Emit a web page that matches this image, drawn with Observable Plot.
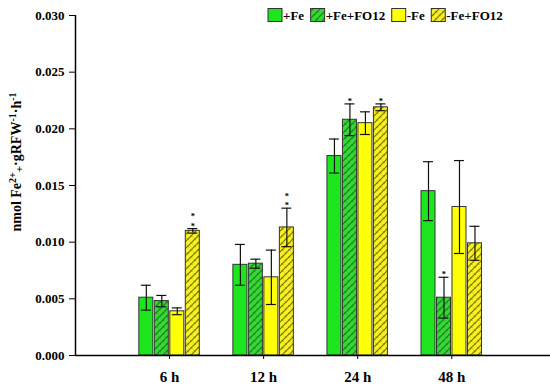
<!DOCTYPE html>
<html>
<head>
<meta charset="utf-8">
<script src="https://cdn.jsdelivr.net/npm/d3@7"></script>
<script src="https://cdn.jsdelivr.net/npm/@observablehq/plot@0.6"></script>
<style>
  body { margin: 0; background: #fff; }
  #chart svg { display: block; }
</style>
</head>
<body>
<div id="chart"></div>
<script>
// ---- data ----
const groups = ["6 h", "12 h", "24 h", "48 h"];
const seriesNames = ["+Fe", "+Fe+FO12", "-Fe", "-Fe+FO12"];

const feMean     = [0.0051, 0.0080, 0.0176, 0.0145];
const feErr      = [0.0011, 0.0018, 0.0015, 0.0026];
const feFoMean   = [0.0048, 0.0081, 0.0208, 0.0051];
const feFoErr    = [0.0005, 0.0004, 0.0014, 0.0018];
const noFeMean   = [0.0039, 0.0069, 0.0205, 0.0131];
const noFeErr    = [0.0003, 0.0024, 0.0010, 0.0041];
const noFeFoMean = [0.0110, 0.0113, 0.0219, 0.0099];
const noFeFoErr  = [0.0002, 0.0017, 0.0003, 0.0015];

const feStars     = [0, 0, 0, 0];
const feFoStars   = [0, 0, 1, 1];
const noFeStars   = [0, 0, 0, 0];
const noFeFoStars = [2, 2, 1, 0];

const yTicks = [0, 0.005, 0.010, 0.015, 0.020, 0.025, 0.030];

// ---- styling ----
const fills = ["#1ee61e", "url(#hatchG)", "#ffff0a", "url(#hatchY)"];
const FONT = "Liberation Serif, Times New Roman, serif";

const allMeans = [feMean, feFoMean, noFeMean, noFeFoMean];
const allErrs = [feErr, feFoErr, noFeErr, noFeFoErr];
const allStars = [feStars, feFoStars, noFeStars, noFeFoStars];

const pitch = 0.1647, half = 0.0744, cap = 0.053;
const rows = [];
groups.forEach((g, gi) => {
  seriesNames.forEach((s, si) => {
    const c = gi + 1 + (si - 1.5) * pitch;
    rows.push({
      group: g, series: s, si,
      c, x1: c - half, x2: c + half,
      mean: allMeans[si][gi], err: allErrs[si][gi],
      stars: allStars[si][gi]
    });
  });
});

const marks = [];
seriesNames.forEach((s, si) => {
  marks.push(Plot.rect(rows.filter(d => d.si === si), {
    x1: "x1", x2: "x2", y1: 0, y2: "mean",
    fill: fills[si], stroke: "#333", strokeWidth: 1
  }));
});
marks.push(
  Plot.ruleX(rows, {x: "c", y1: d => d.mean - d.err, y2: d => d.mean + d.err, stroke: "#111", strokeWidth: 1.2}),
  Plot.ruleY(rows, {y: d => d.mean + d.err, x1: d => d.c - cap, x2: d => d.c + cap, stroke: "#111", strokeWidth: 1.2}),
  Plot.ruleY(rows, {y: d => d.mean - d.err, x1: d => d.c - cap, x2: d => d.c + cap, stroke: "#111", strokeWidth: 1.2}),
  Plot.text(rows.filter(d => d.stars >= 1), {
    x: "c", y: d => d.mean + d.err, text: () => "*",
    lineAnchor: "bottom", dy: 0, fontSize: 8.5, fontWeight: "bold", fill: "#000"
  }),
  Plot.text(rows.filter(d => d.stars >= 2), {
    x: "c", y: d => d.mean + d.err, text: () => "*",
    lineAnchor: "bottom", dy: -9.5, fontSize: 8.5, fontWeight: "bold", fill: "#000"
  }),
  Plot.ruleX([0], {stroke: "#000", strokeWidth: 1.5}),
  Plot.ruleY([0], {stroke: "#000", strokeWidth: 1.5}),
  Plot.axisY({ticks: yTicks, tickFormat: d3.format(".3f"), tickSize: 6, tickPadding: 5,
    fontSize: 13, fontWeight: "bold", label: null}),
  Plot.axisX({ticks: [1, 2, 3, 4], tickFormat: i => groups[i - 1], tickSize: 4, tickPadding: 12,
    fontSize: 15, fontWeight: "bold", label: null})
);

const svg = Plot.plot({
  width: 550, height: 389,
  marginLeft: 75, marginRight: 0, marginTop: 15, marginBottom: 34,
  style: {fontFamily: FONT, color: "#000", background: "#fff"},
  x: {domain: [0, 5.05]},
  y: {domain: [0, 0.030]},
  marks
});
document.getElementById("chart").appendChild(svg);

const S = d3.select(svg);
// patterns
const defs = S.insert("defs", ":first-child");
function hatch(id, bg, line) {
  const p = defs.append("pattern").attr("id", id)
    .attr("patternUnits", "userSpaceOnUse").attr("width", 7).attr("height", 7);
  p.append("rect").attr("width", 7).attr("height", 7).attr("fill", bg);
  p.append("path").attr("d", "M-1,1 L1,-1 M0,7 L7,0 M6,8 L8,6")
    .attr("stroke", line).attr("stroke-width", 1.2).attr("fill", "none");
  p.append("path").attr("d", "M1.5,4 L3.2,5.7 M5,0.5 L6.7,2.2")
    .attr("stroke", line).attr("stroke-width", 0.9).attr("fill", "none");
}
hatch("hatchG", "#33da33", "#227a22");
hatch("hatchY", "#f6f222", "#807400");

// legend
const lg = S.append("g").attr("font-family", FONT).attr("font-weight", "bold")
  .attr("font-size", 13).attr("text-anchor", "start");
let lx = 268;
seriesNames.forEach((s, i) => {
  lg.append("rect").attr("x", lx).attr("y", 8.5).attr("width", 14).attr("height", 13)
    .attr("fill", fills[i]).attr("stroke", "#333").attr("stroke-width", 1);
  const t = lg.append("text").attr("x", lx + 15).attr("y", 20).attr("fill", "#000").text(s);
  lx += 15 + t.node().getComputedTextLength() + 6.5;
});

// y label
const yl = S.append("text")
  .attr("transform", "translate(21,162) rotate(-90)")
  .attr("text-anchor", "middle")
  .attr("font-family", FONT).attr("font-weight", "bold").attr("font-size", 14).attr("fill", "#000");
yl.append("tspan").text("nmol Fe");
yl.append("tspan").attr("dy", -5).attr("font-size", 10).text("2+");
yl.append("tspan").attr("dy", 7).attr("font-size", 11).text("+");
yl.append("tspan").attr("dy", -2).text("·gRFW");
yl.append("tspan").attr("dy", -5).attr("font-size", 10).text("-1");
yl.append("tspan").attr("dy", 5).text("·h");
yl.append("tspan").attr("dy", -5).attr("font-size", 10).text("-1");
</script>
</body>
</html>
